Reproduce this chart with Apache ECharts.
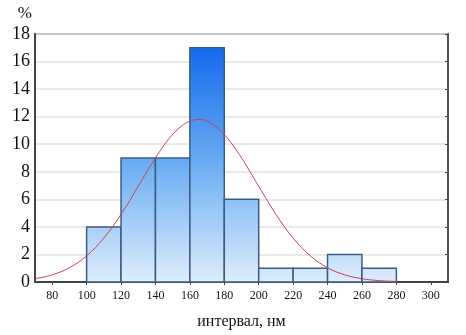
<!DOCTYPE html>
<html lang="ru">
<head>
  <meta charset="UTF-8">
  <script type="text/javascript" src="https://cdn.jsdelivr.net/npm/echarts@6/dist/echarts.min.js"></script>
  <title>Гистограмма</title>
  <style type="text/css">
    * {
      margin: 0;
      padding: 0;
    }

    html, body {
      width: 100%;
      height: 100%;
      background-color: #fff;
    }

    #chart {
      width: 466px;
      height: 335px;
    }
  </style>
</head>

<body>
<div id="chart"></div>
</body>
<script type="text/javascript">
  // интервалы гистограммы (левая граница, ширина 20)
  var binStarts = [100, 120, 140, 160, 180, 200, 220, 240, 260]
  var binWidth = 20
  var binValues = [4, 9, 9, 17, 6, 1, 1, 2, 1]

  // нормальная кривая
  var curveX = [70, 80, 90, 100, 110, 120, 130, 135, 140, 145, 150, 155, 160, 165, 170, 175, 180, 185, 190, 195, 200, 210, 220, 230, 240, 250, 260, 270, 280]
  var curveY = [0.24, 0.52, 1.04, 1.9, 3.19, 4.91, 6.95, 8.0, 9.01, 9.93, 10.71, 11.3, 11.67, 11.8, 11.67, 11.3, 10.71, 9.93, 9.01, 8.0, 6.95, 4.91, 3.19, 1.9, 1.04, 0.52, 0.24, 0.1, 0.04]

  var xTicks = [80, 100, 120, 140, 160, 180, 200, 220, 240, 260, 280, 300]

  var serif = '"Liberation Serif", "DejaVu Serif", serif'

  var barData = binStarts.map(function (s, i) {
    return [s, s + binWidth, binValues[i]]
  })
  var lineData = curveX.map(function (x, i) {
    return [x, curveY[i]]
  })

  var myChart = echarts.init(document.getElementById('chart'))
  var option = {
    animation: false,
    grid: {
      left: 35,
      right: 18,
      top: 34,
      bottom: 52,
      show: true,
      borderColor: '#444',
      borderWidth: 1.5
    },
    xAxis: [
      {
        type: 'value',
        min: 70,
        max: 310,
        name: 'интервал, нм',
        nameLocation: 'middle',
        nameGap: 32,
        nameTextStyle: {
          fontFamily: serif,
          fontSize: 16,
          color: '#111'
        },
        axisLine: {lineStyle: {color: '#444', width: 2}},
        axisTick: {show: false},
        splitLine: {show: false},
        axisLabel: {
          customValues: xTicks,
          fontFamily: serif,
          fontSize: 12,
          color: '#111',
          margin: 8
        }
      },
      {
        type: 'value',
        position: 'top',
        min: 70,
        max: 310,
        axisLine: {lineStyle: {color: '#444', width: 2}},
        axisTick: {customValues: xTicks, inside: true, length: 3, lineStyle: {color: '#444'}},
        axisLabel: {show: false},
        splitLine: {show: false}
      }
    ],
    yAxis: [
      {
        type: 'value',
        min: 0,
        max: 18,
        interval: 2,
        name: '%',
        nameLocation: 'end',
        nameGap: 12,
        nameTextStyle: {
          fontFamily: serif,
          fontSize: 17,
          color: '#111',
          align: 'right',
          padding: [0, 3, 0, 0]
        },
        axisLine: {show: true, lineStyle: {color: '#444', width: 2}},
        axisTick: {show: false},
        axisLabel: {
          fontFamily: serif,
          fontSize: 18,
          color: '#111',
          margin: 5
        },
        splitLine: {lineStyle: {color: '#e2e2e2', width: 1.5}}
      },
      {
        type: 'value',
        position: 'right',
        min: 0,
        max: 18,
        interval: 2,
        axisLine: {show: true, lineStyle: {color: '#444', width: 1.5}},
        axisTick: {show: true, inside: true, length: 3, lineStyle: {color: '#444'}},
        axisLabel: {show: false},
        splitLine: {show: false}
      }
    ],
    series: [
      {
        type: 'custom',
        xAxisIndex: 0,
        yAxisIndex: 0,
        renderItem: function (params, api) {
          var p0 = api.coord([api.value(0), api.value(2)])
          var p1 = api.coord([api.value(1), 0])
          var top = api.coord([70, 18])[1]
          var bottom = api.coord([70, 0])[1]
          return {
            type: 'rect',
            shape: {x: p0[0], y: p0[1], width: p1[0] - p0[0], height: p1[1] - p0[1]},
            style: {
              fill: new echarts.graphic.LinearGradient(0, top, 0, bottom, [
                {offset: 0, color: '#0a62ec'},
                {offset: 0.5, color: '#66aaf2'},
                {offset: 1, color: '#deedfb'}
              ], true),
              stroke: '#3b5c84',
              lineWidth: 1.5
            }
          }
        },
        encode: {x: [0, 1], y: 2},
        data: barData
      },
      {
        type: 'line',
        xAxisIndex: 0,
        yAxisIndex: 0,
        smooth: 0.4,
        showSymbol: false,
        lineStyle: {color: '#c8405a', width: 1},
        data: lineData
      }
    ]
  }
  myChart.setOption(option)
</script>
</html>
